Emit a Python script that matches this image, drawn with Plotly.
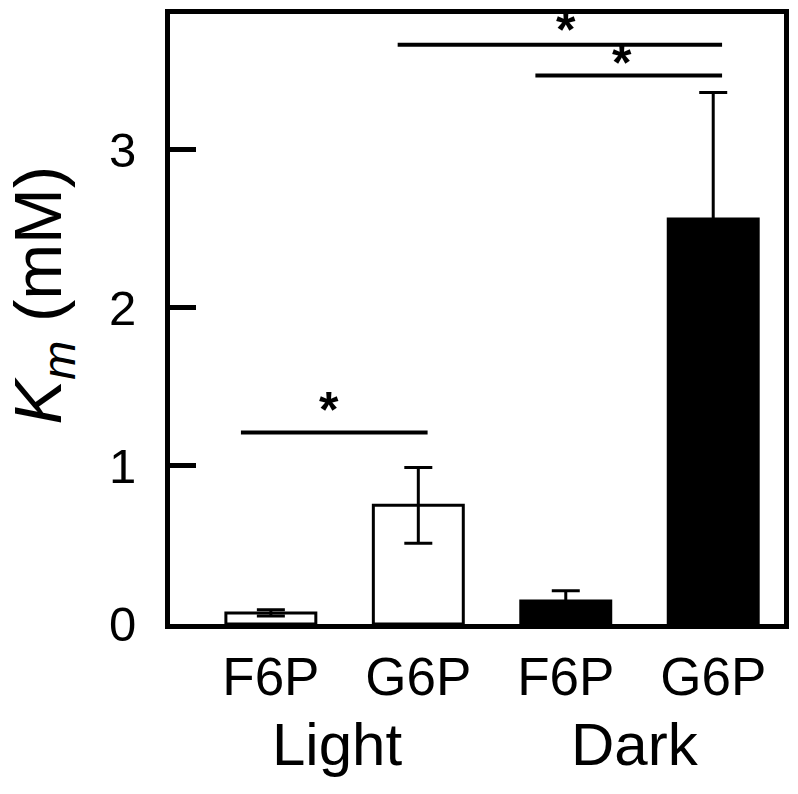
import plotly.graph_objects as go

# ---- data ----
categories = ["F6P", "G6P", "F6P", "G6P"]
conditions = ["Light", "Dark"]
km_values = [0.07, 0.75, 0.145, 2.56]
km_errors = [0.02, 0.24, 0.065, 0.80]
bar_fill = ["white", "white", "black", "black"]
y_ticks = [0, 1, 2, 3]

positions = list(range(len(categories)))

FONT = "Liberation Sans, Arial, sans-serif"

fig = go.Figure()
fig.add_trace(go.Bar(
    x=positions,
    y=km_values,
    width=0.61,
    marker=dict(color=bar_fill, line=dict(color="black", width=3)),
    error_y=dict(type="data", array=km_errors, visible=True,
                 color="black", thickness=3, width=14),
    showlegend=False,
))

# significance brackets: (x0, x1, line_y, star_x, star_y)
brackets = [
    (-0.203, 1.063, 1.21, 0.393, 1.373),
    (0.86, 3.06, 3.661, 2.004, 3.774),
    (1.794, 3.06, 3.467, 2.383, 3.567),
]
for x0, x1, yb, xs, ys in brackets:
    fig.add_shape(type="line", x0=x0, x1=x1, y0=yb, y1=yb,
                  xref="x", yref="y", line=dict(color="black", width=4))
    fig.add_annotation(x=xs, y=ys, xref="x", yref="y", text="<b>*</b>",
                       showarrow=False, yanchor="bottom", yshift=-33,
                       font=dict(size=50, family=FONT, color="black"))

# condition labels
for label, xc in zip(conditions, [0.45, 2.47]):
    fig.add_annotation(x=xc, y=-0.14, xref="x", yref="paper", text=label,
                       showarrow=False, yanchor="top",
                       font=dict(size=60, family=FONT, color="black"))

# y axis title
fig.add_annotation(x=-0.207, y=0.54, xref="paper", yref="paper",
                   text="<i>K<sub>m</sub></i> (mM)", textangle=-90,
                   showarrow=False, xanchor="center", yanchor="middle",
                   font=dict(size=67, family=FONT, color="black"))

fig.update_xaxes(
    range=[-0.684, 3.480],
    tickmode="array", tickvals=positions, ticktext=categories,
    ticks="", showgrid=False, zeroline=False,
    showline=True, linecolor="black", linewidth=5, mirror=True,
    tickfont=dict(size=53, family=FONT, color="black"),
    ticklabelstandoff=2,
)
fig.update_yaxes(
    range=[0, 3.856],
    tickmode="array", tickvals=y_ticks,
    ticks="inside", ticklen=26, tickwidth=5, tickcolor="black",
    showgrid=False, zeroline=False,
    showline=True, linecolor="black", linewidth=5, mirror=True,
    tickfont=dict(size=49, family=FONT, color="black"),
    ticklabelstandoff=19,
)

fig.update_layout(
    width=798, height=794,
    margin=dict(l=170, r=13, t=9, b=170),
    paper_bgcolor="white", plot_bgcolor="white",
    font=dict(family=FONT, color="black"),
)

fig.write_html("out.html", config={"displayModeBar": False},
               post_script="document.body.style.margin='0';")
